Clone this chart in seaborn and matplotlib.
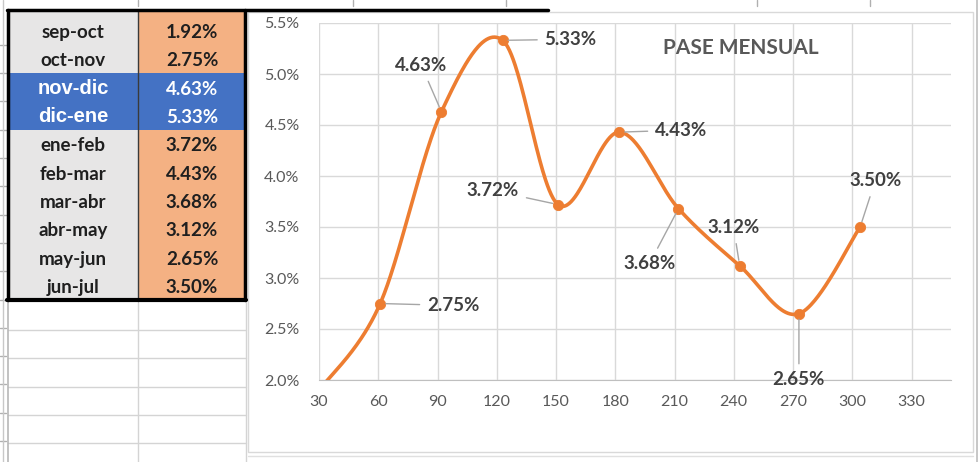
import numpy as np
import pandas as pd
import matplotlib
matplotlib.use("Agg")
import matplotlib.pyplot as plt
import seaborn as sns
from matplotlib.patches import Rectangle
from matplotlib.ticker import FuncFormatter

# ---------------- data ----------------
periods = ['sep-oct', 'oct-nov', 'nov-dic', 'dic-ene', 'ene-feb',
           'feb-mar', 'mar-abr', 'abr-may', 'may-jun', 'jun-jul']
days = [31, 61, 92, 123, 151, 182, 212, 243, 273, 304]
pase = [1.92, 2.75, 4.63, 5.33, 3.72, 4.43, 3.68, 3.12, 2.65, 3.50]
highlight = ['nov-dic', 'dic-ene']
x_ticks = [30, 60, 90, 120, 150, 180, 210, 240, 270, 300, 330]
y_ticks = [2.0, 2.5, 3.0, 3.5, 4.0, 4.5, 5.0, 5.5]
title = 'PASE MENSUAL'

# label offsets in pixels (dx, dy up) - styling only
label_offsets = [(0, 0), (73, -2), (-20, 46), (68, 1), (-65, 14),
                 (62, 2), (-29, -55), (-6, 38), (0, -66), (15, 46)]

sns.set_style("white")
plt.rcParams['font.family'] = ['Lato', 'DejaVu Sans']

W, H = 980, 462
fig = plt.figure(figsize=(W / 100, H / 100), dpi=100)

# ---------------- spreadsheet background ----------------
bg = fig.add_axes([0, 0, 1, 1])
bg.set_xlim(0, W)
bg.set_ylim(H, 0)
bg.axis('off')

row_top = 16.5
row_h = 28.3

grid_c = '#d4d4d4'
# empty cells below table
for yy in [330, 358, 387, 415, 443]:
    bg.plot([8, 246], [yy, yy], color=grid_c, lw=1)
for k in range(1, 16):
    yy = row_top + k * row_h
    bg.plot([0, 6], [yy, yy], color='#b0b0b0', lw=1)
for xx in [138, 246]:
    bg.plot([xx, xx], [302, H], color=grid_c, lw=1)
bg.plot([8, 8], [302, H], color='#b8b8b8', lw=1.2)
bg.plot([3, 3], [0, H], color='#c8c8c8', lw=1)
for xx in [138, 353, 506, 757, 870]:
    bg.plot([xx, xx], [0, 6], color='#b0b0b0', lw=1)

# table
bg.add_patch(Rectangle((8, 10), 130, row_top - 10, color='#e7e6e6', lw=0))
bg.add_patch(Rectangle((138, 10), 107, row_top - 10, color='#f4b183', lw=0))
for i, (p, v) in enumerate(zip(periods, pase)):
    y0 = row_top + i * row_h
    hi = p in highlight
    c1 = '#4472c4' if hi else '#e7e6e6'
    c2 = '#4472c4' if hi else '#f4b183'
    bg.add_patch(Rectangle((8, y0), 130, row_h, color=c1, lw=0))
    bg.add_patch(Rectangle((138, y0), 107, row_h, color=c2, lw=0))
    tc = 'white' if hi else '#1f1f1f'
    if hi:
        bg.text(73, y0 + row_h / 2 + 1, p, ha='center', va='center', color=tc,
                fontsize=14.5, fontweight='bold', family=['Liberation Sans', 'DejaVu Sans'])
    else:
        bg.text(73, y0 + row_h / 2 + 2, p, ha='center', va='center', color=tc,
                fontsize=13.5, fontweight='bold')
    bg.text(192, y0 + row_h / 2 + 2, f'{v:.2f}%', ha='center', va='center',
            color=tc, fontsize=13.5, fontweight='bold')
bg.plot([138, 138], [10, 301], color='#3a3a3a', lw=1)
tb = row_top + len(periods) * row_h
bg.plot([8, 8], [10, tb], color='black', lw=2.5)
bg.plot([245, 245], [10, tb], color='black', lw=2.5)
bg.plot([7, 246], [tb, tb], color='black', lw=3)
bg.plot([7, 548], [10, 10], color='black', lw=2.5)

# chart area
bg.add_patch(Rectangle((248, 12), 725, 440, facecolor='white', edgecolor='#d9d9d9', lw=1))
bg.plot([977, 977], [0, H], color='#bdbdbd', lw=1.2)
bg.plot([248, 973], [456, 456], color='#e0e0e0', lw=1)

# ---------------- chart ----------------
ax_l, ax_r, ax_t, ax_b = 319, 951, 23, 380
ax = fig.add_axes([ax_l / W, 1 - ax_b / H, (ax_r - ax_l) / W, (ax_b - ax_t) / H])
ax.set_facecolor('none')
xmin, xmax, ymin, ymax = 30, 350, 2.0, 5.5
ax.set_xlim(xmin, xmax)
ax.set_ylim(ymin, ymax)

sx = (ax_r - ax_l) / (xmax - xmin)
sy = (ax_b - ax_t) / (ymax - ymin)


def smooth_curve(xs, ys, n=60):
    P = np.column_stack([np.asarray(xs, float) * sx, np.asarray(ys, float) * sy])
    Pp = np.vstack([P[0], P, P[-1]])
    out = []
    for i in range(1, len(Pp) - 2):
        p0, p1, p2, p3 = Pp[i - 1], Pp[i], Pp[i + 1], Pp[i + 2]
        c1 = p1 + (p2 - p0) / 6
        c2 = p2 - (p3 - p1) / 6
        t = np.linspace(0, 1, n)[:, None]
        seg = (1 - t) ** 3 * p1 + 3 * (1 - t) ** 2 * t * c1 + 3 * (1 - t) * t ** 2 * c2 + t ** 3 * p2
        out.append(seg if i == 1 else seg[1:])
    C = np.vstack(out)
    return C[:, 0] / sx, C[:, 1] / sy


cx, cy = smooth_curve(days, pase)
orange = '#ed7d31'
sns.lineplot(x=cx, y=cy, sort=False, ax=ax, color=orange, lw=2.6, zorder=3)
df = pd.DataFrame({'dias': days, 'pase': pase})
sns.scatterplot(data=df, x='dias', y='pase', ax=ax, color=orange, s=55,
                edgecolor=orange, zorder=4)

for (d, v), (dx, dy) in zip(zip(days, pase), label_offsets):
    if v < ymin:
        continue
    ax.annotate(f'{v:.2f}%', xy=(d, v), xytext=(dx, dy), textcoords='offset pixels',
                ha='center', va='center', fontsize=13.5, fontweight='bold', color='#404040',
                arrowprops=dict(arrowstyle='-', color='#a6a6a6', lw=1, shrinkA=3, shrinkB=4),
                zorder=5)

ax.set_xticks(x_ticks)
ax.set_yticks(y_ticks)
ax.yaxis.set_major_formatter(FuncFormatter(lambda v, p: f'{v:.1f}%'))
ax.grid(True, color='#d9d9d9', lw=1)
ax.set_axisbelow(True)
for s in ['top', 'right', 'left']:
    ax.spines[s].set_visible(False)
ax.spines['bottom'].set_color('#bfbfbf')
ax.tick_params(axis='both', length=0, colors='#595959', labelsize=11.5)
ax.tick_params(axis='x', pad=11)
ax.tick_params(axis='y', pad=14)
ax.set_xlabel('')
ax.set_ylabel('')

fig.text(741 / W, 1 - 48 / H, title, ha='center', va='center', fontsize=15,
         fontweight='bold', color='#595959')

fig.savefig('out.png', dpi=100)
